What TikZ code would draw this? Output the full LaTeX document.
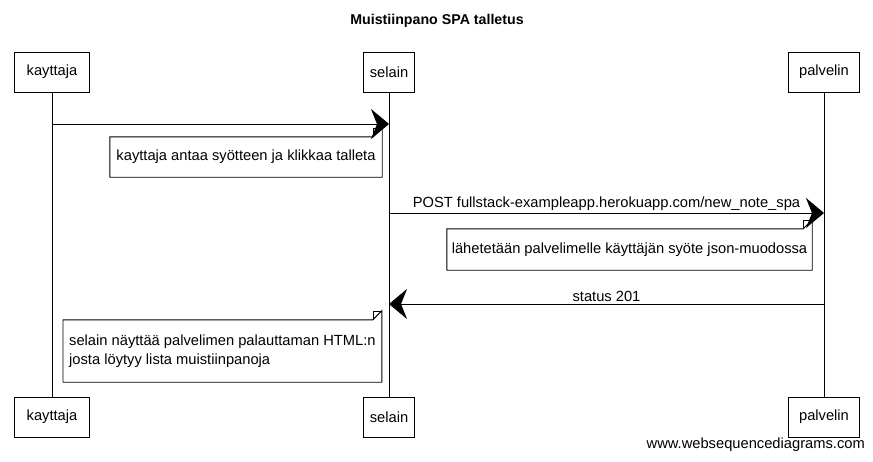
\documentclass[tikz,border=0pt]{standalone}
\usepackage{fontspec}
\setmainfont{Liberation Sans}
\usetikzlibrary{arrows.meta,calc}
\begin{document}
\begin{tikzpicture}[x=1pt,y=-1pt,
  every node/.style={font=\fontsize{14.7}{19}\selectfont},
  actor/.style={draw,line width=0.9pt,minimum height=40pt,inner sep=0pt,fill=white},
  life/.style={line width=0.8pt},
  msg/.style={line width=1pt,-{Stealth[length=18pt,width=30pt,inset=6pt]}},
  notebox/.style={inner sep=0pt,align=left},
  lbl/.style={inner sep=1pt}
]
\useasboundingbox (0,0) rectangle (873,461);
\node[font=\bfseries\fontsize{14.2}{17}\selectfont] (title) at (437,21) {Muistiinpano SPA talletus};
% participants
\node[actor,minimum width=75pt] (k) at (52,72) {kayttaja};
\node[actor,minimum width=51pt] (s) at (389,72) {selain};
\node[actor,minimum width=71pt] (p) at (824,72) {palvelin};
\node[actor,minimum width=75pt] (kb) at (52,417) {kayttaja};
\node[actor,minimum width=51pt] (sb) at (389,417) {selain};
\node[actor,minimum width=71pt] (pb) at (824,417) {palvelin};
\draw[life] (k) -- (kb);
\draw[life] (s) -- (sb);
\draw[life] (p) -- (pb);
% message endpoints
\coordinate (m1a) at (k |- 0,124);
\coordinate (m1b) at (s |- 0,124);
\coordinate (m2a) at (s |- 0,213);
\coordinate (m2b) at (p |- 0,213);
\coordinate (m3a) at (p |- 0,304);
\coordinate (m3b) at (s |- 0,304);
\draw[msg] (m1a) -- (m1b);
\draw[msg] (m2a) -- node[lbl,above=1pt] (l2) {POST fullstack-exampleapp.herokuapp.com/new\_note\_spa} (m2b);
\draw[msg] (m3a) -- node[lbl,above=1pt] (l3) {status 201} (m3b);
% notes
\node[notebox,minimum width=272pt,minimum height=40pt] (n1) at (246,157) {kayttaja antaa syötteen ja klikkaa talleta};
\node[notebox,minimum width=365pt,minimum height=41pt] (n2) at (629.5,249.5) {lähetetään palvelimelle käyttäjän syöte json-muodossa};
\node[notebox,inner xsep=6pt,minimum height=62pt,anchor=west] (n3) at (63,351) {selain näyttää palvelimen palauttaman HTML:n\\josta löytyy lista muistiinpanoja};
\foreach \n in {n1,n2,n3}{
  \draw[line width=0.9pt] (\n.south west) -- (\n.north west) -- ([xshift=-9pt]\n.north east) -- ([yshift=9pt]\n.north east) -- (\n.south east) -- cycle;
  \draw[line width=0.6pt] ([xshift=-9pt]\n.north east) -- ([xshift=-9pt,yshift=9pt]\n.north east) -- ([yshift=9pt]\n.north east);
}
\node[anchor=south east,inner sep=0pt] (wm) at (865,452) {www.websequencediagrams.com};
\end{tikzpicture}
\end{document}
